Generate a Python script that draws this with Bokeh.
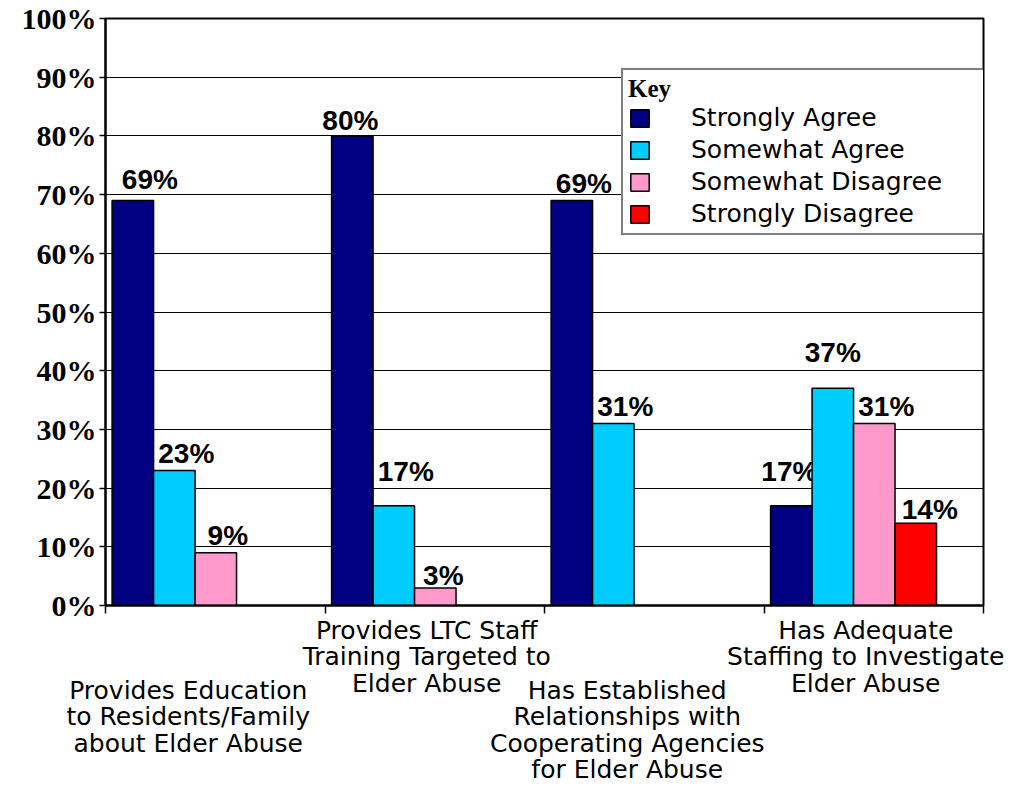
from bokeh.plotting import figure
from bokeh.models import (Range1d, FixedTicker, PrintfTickFormatter, LinearAxis,
                          Legend, LegendItem)
from bokeh.core.properties import value
from bokeh.embed import file_html
from bokeh.resources import INLINE

# ---------------- data ----------------
categories = [
    "Provides Education\nto Residents/Family\nabout Elder Abuse",
    "Provides LTC Staff\nTraining Targeted to\nElder Abuse",
    "Has Established\nRelationships with\nCooperating Agencies\nfor Elder Abuse",
    "Has Adequate\nStaffing to Investigate\nElder Abuse",
]
series_names = ["Strongly Agree", "Somewhat Agree", "Somewhat Disagree", "Strongly Disagree"]
strongly_agree = [69, 80, 69, 17]
somewhat_agree = [23, 17, 31, 37]
somewhat_disagree = [9, 3, 0, 31]
strongly_disagree = [0, 0, 0, 14]
y_ticks = [0, 10, 20, 30, 40, 50, 60, 70, 80, 90, 100]

# ---------------- style ----------------
colors = ["#000080", "#00CCFF", "#FF99CC", "#FF0000"]
all_series = [strongly_agree, somewhat_agree, somewhat_disagree, strongly_disagree]
GROUP_OFFSET = 0.03
BAR_W = 0.189
PX_PER_CAT = 219.5
# value-label nudges (px): (group, series) -> (dx, gap above bar top)
BASELINE_FIX = 9
DEFAULT_NUDGE = (12, 8)
NUDGE = {(0, 0): (17, 12), (1, 0): (-2, 6), (1, 1): (12, 25), (1, 2): (8, 3),
         (3, 0): (-2, 25), (3, 1): (0, 27), (3, 3): (14, 5)}
# staggered category label rows: (category indices, horizontal shift px)
ROW_HI = ([1, 3], -8)
ROW_LO = ([0, 2], -27)
CAT_FONT = "25px"
CAT_LINE_H = 0.917

n = len(categories)
p = figure(width=1027, height=787, x_range=Range1d(0, n), y_range=Range1d(0, 100),
           output_backend="svg", toolbar_location=None, x_axis_location=None,
           min_border_left=105, min_border_right=44, min_border_top=18, min_border_bottom=181)
p.background_fill_color = "white"
p.border_fill_color = "white"
p.outline_line_color = "black"
p.outline_line_width = 2

p.xgrid.visible = False
p.ygrid.ticker = FixedTicker(ticks=y_ticks)
p.ygrid.grid_line_color = "black"
p.ygrid.grid_line_width = 1

ya = p.yaxis[0]
ya.ticker = FixedTicker(ticks=y_ticks)
ya.formatter = PrintfTickFormatter(format="%d%%")
ya.major_label_text_font = "Liberation Serif"
ya.major_label_text_font_style = "bold"
ya.major_label_text_font_size = "30px"
ya.major_label_text_color = "black"
ya.major_label_standoff = 3
ya.major_tick_out = 6
ya.major_tick_in = 0
ya.minor_tick_line_color = None
ya.axis_line_width = 2
ya.axis_line_color = "black"
ya.major_tick_line_color = "black"
ya.major_tick_line_width = 1.5

# ---------------- category axes (two staggered rows) ----------------
# each row uses a doubled, shifted copy of the category range so that the
# label ticks fall on whole numbers (2*i+1) shifted by the row's offset
def add_cat_axis(name, row, first, standoff):
    idx, dx = row
    s = -2 * dx / PX_PER_CAT
    p.extra_x_ranges[name] = Range1d(s, 2 * n + s)
    ticks = [2 * i + 1 for i in idx]
    minor = [2 * b + s for b in range(n + 1)] if first else []
    ax = LinearAxis(x_range_name=name,
                    ticker=FixedTicker(ticks=ticks, minor_ticks=minor),
                    major_label_overrides={2 * i + 1: categories[i] for i in idx},
                    major_label_text_font="DejaVu Sans",
                    major_label_text_font_size=CAT_FONT,
                    major_label_text_line_height=CAT_LINE_H,
                    major_label_text_color="black",
                    major_label_standoff=standoff,
                    major_tick_line_color=None, major_tick_out=0, major_tick_in=0,
                    minor_tick_in=0, minor_tick_out=8 if first else 0,
                    minor_tick_line_color="black" if first else None,
                    minor_tick_line_width=1.5,
                    axis_line_color="black" if first else None,
                    axis_line_width=2)
    p.add_layout(ax, "below")

add_cat_axis("row_hi", ROW_HI, True, 2)
add_cat_axis("row_lo", ROW_LO, False, -25)

# ---------------- bars + value labels ----------------
bar_renderers = []
for s, vals in enumerate(all_series):
    xs, tops, texts, dxs, dys = [], [], [], [], []
    for g, v in enumerate(vals):
        if v <= 0:
            continue
        xs.append(g + GROUP_OFFSET + (s + 0.5) * BAR_W)
        tops.append(v)
        texts.append(f"{v}%")
        dx, gap = NUDGE.get((g, s), DEFAULT_NUDGE)
        dxs.append(dx)
        dys.append(-(gap + BASELINE_FIX))
    r = p.vbar(x=xs, top=tops, bottom=0, width=BAR_W, fill_color=colors[s],
               line_color="black", line_width=1.5)
    bar_renderers.append(r)
    p.text(x=xs, y=tops, text=texts, x_offset=dxs, y_offset=dys,
           text_align="center", text_baseline="alphabetic",
           text_font=value("Liberation Sans"), text_font_style="bold",
           text_font_size="28px", text_color="black")

# ---------------- legend ----------------
items = [LegendItem(label=name, renderers=[bar_renderers[s]])
         for s, name in enumerate(series_names)]
legend = Legend(items=items, location=(516, 370), padding=5, margin=0,
                spacing=3, glyph_width=23, glyph_height=22, label_height=29,
                label_standoff=40, label_width=289,
                title="Key", title_text_font="Liberation Serif",
                title_text_font_style="bold", title_text_font_size="25px",
                title_text_color="black", title_standoff=-12,
                label_text_font="DejaVu Sans", label_text_font_size="25px",
                label_text_color="black",
                border_line_color="black", border_line_width=2,
                background_fill_color="white", background_fill_alpha=1.0)
p.add_layout(legend)

open("out.html", "w").write(file_html(p, INLINE))
